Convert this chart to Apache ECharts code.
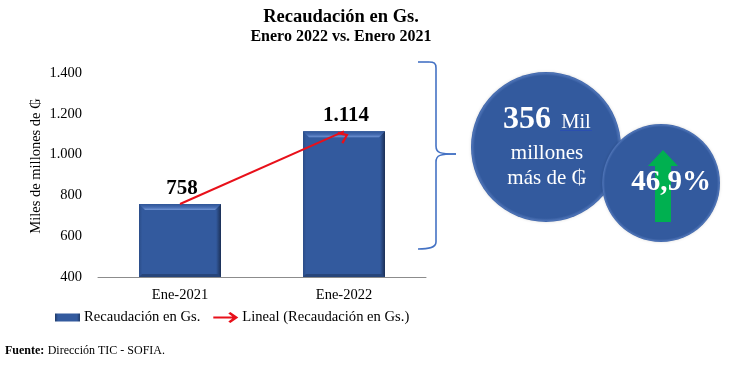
<!DOCTYPE html>
<html><head><meta charset="utf-8">
<style>html,body{margin:0;padding:0;background:#fff}#c{width:732px;height:365px}</style>
<script src="https://cdn.jsdelivr.net/npm/echarts@6/dist/echarts.min.js"></script>
</head><body><div id="c"></div>
<script>
const categories = ['Ene-2021', 'Ene-2022'];
const recaudacion = [758, 1114];
const yTicks = { min: 400, max: 1400, interval: 200 };
const serif = '"Liberation Serif","Times New Roman",serif';
const blue = '#335a9e';
const fmt = v => String(v).replace(/\B(?=(\d{3})+$)/g, '.');
const chart = echarts.init(document.getElementById('c'), null, { renderer: 'canvas' });
const angle = Math.atan2((recaudacion[1] - recaudacion[0]) * 0.204, 164) * 180 / Math.PI;
const chevron = 'path://M0 12 L10 0 L20 12 L17 14 L10 5 L3 14 Z';
const legendArrow = 'path://M0 4.4 L19 4.4 L15 1.4 L17 0 L25 5.5 L17 11 L15 9.6 L19 6.6 L0 6.6 Z';
const legendBar = 'path://M0 0 L0.01 0 L0 0.01 Z M25 11 L24.99 11 L25 10.99 Z M0 1.5 L25 1.5 L25 9.5 L0 9.5 Z';
const bubbleFill = { type: 'radial', x: .5, y: .5, r: .5, colorStops: [{ offset: 0, color: blue }, { offset: .95, color: blue }, { offset: .985, color: '#4d72b5' }, { offset: 1, color: '#3a62a8' }] };
const text = (x, y, t, size, extra) => ({ type: 'text', x, y, z: 20, style: Object.assign({ text: t, fill: '#fff', font: size + 'px ' + serif, textAlign: 'center', textVerticalAlign: 'middle' }, extra) });
const brStyle = { fill: 'none', stroke: '#4472c4', lineWidth: 1.6 };
const seg = (x1, y1, x2, y2) => ({ type: 'line', z: 10, shape: { x1, y1, x2, y2 }, style: brStyle });
const bez = (x1, y1, cpx1, cpy1, cpx2, cpy2, x2, y2) => ({ type: 'bezierCurve', z: 10, shape: { x1, y1, cpx1, cpy1, cpx2, cpy2, x2, y2 }, style: brStyle });
chart.setOption({
  animation: false,
  backgroundColor: '#fff',
  textStyle: { fontFamily: serif },
  title: {
    text: 'Recaudación en Gs.', subtext: 'Enero 2022 vs. Enero 2021', left: 336, textAlign: 'center', top: 3, itemGap: 2,
    textStyle: { fontFamily: serif, fontSize: 18.5, fontWeight: 'bold', color: '#000' },
    subtextStyle: { fontFamily: serif, fontSize: 16, fontWeight: 'bold', color: '#000' }
  },
  grid: { left: 98, right: 306, top: 73, bottom: 88 },
  legend: {
    left: 50, top: 305, itemGap: 13, itemWidth: 25, itemHeight: 11, symbolKeepAspect: false,
    data: [
      { name: 'Recaudación en Gs.', icon: legendBar, itemStyle: { color: { type: 'linear', x: 0, y: 0, x2: 1, y2: 0, colorStops: [{ offset: 0, color: '#1f3a68' }, { offset: .12, color: blue }, { offset: .88, color: blue }, { offset: 1, color: '#1f3a68' }] } } },
      { name: 'Lineal (Recaudación en Gs.)', icon: legendArrow, itemStyle: { color: '#e8101a', borderWidth: 0 } }
    ],
    textStyle: { fontFamily: serif, fontSize: 14.6, color: '#000', padding: [0, 0, 0, -1] }
  },
  xAxis: {
    type: 'category', data: categories,
    axisLine: { lineStyle: { color: '#8c8c8c', width: 1 } }, axisTick: { show: false },
    axisLabel: { fontFamily: serif, fontSize: 14.5, color: '#000', margin: 11 }
  },
  yAxis: {
    type: 'value', min: yTicks.min, max: yTicks.max, interval: yTicks.interval,
    name: 'Miles de millones de ₲', nameLocation: 'middle', nameGap: 54,
    nameTextStyle: { fontFamily: serif, fontSize: 14.5, color: '#000', padding: [0, 0, 0, 18] },
    axisLine: { show: false }, axisTick: { show: false }, splitLine: { show: false },
    axisLabel: { fontFamily: serif, fontSize: 14.5, color: '#000', margin: 16, padding: [4, 0, 0, 0], formatter: fmt }
  },
  series: [
    {
      name: 'Recaudación en Gs.', type: 'bar', data: recaudacion, barWidth: '50%', z: 2,
      itemStyle: { color: { type: 'linear', x: 0, y: 0, x2: 1, y2: 0, colorStops: [
        { offset: 0, color: '#2b4d88' }, { offset: .04, color: blue }, { offset: .94, color: blue }, { offset: 1, color: '#1b2f55' }] } },
      label: { show: true, position: 'top', distance: 5, offset: [2, 0], fontFamily: serif, fontSize: 21, fontWeight: 'bold', color: '#000', formatter: p => fmt(p.value) }
    },
    {
      name: 'bevel', type: 'custom', data: recaudacion, z: 3, silent: true,
      renderItem: (params, api) => {
        const top = api.coord([api.value(0), api.value(1)]);
        const base = api.coord([api.value(0), yTicks.min]);
        const w = api.size([1, 0])[0] * 0.5;
        const l = top[0] - w / 2, r = top[0] + w / 2, b = 6, s = 3;
        return { type: 'group', children: [
          { type: 'polygon', shape: { points: [[l, top[1]], [r, top[1]], [r - b, top[1] + b], [l + b, top[1] + b]] }, style: { fill: { type: 'linear', x: 0, y: 0, x2: 0, y2: 1, colorStops: [{ offset: 0, color: '#2f5597' }, { offset: .55, color: '#456bb0' }, { offset: 1, color: '#7094d4' }] } } },
          { type: 'polygon', shape: { points: [[l, base[1]], [r, base[1]], [r - s, base[1] - s], [l + s, base[1] - s]] }, style: { fill: '#27457a' } }
        ] };
      }
    },
    {
      name: 'Lineal (Recaudación en Gs.)', type: 'line', z: 5,
      data: [
        { value: recaudacion[0], symbol: 'none' },
        { value: recaudacion[1], symbol: chevron, symbolSize: [13, 10], symbolRotate: angle - 90, symbolOffset: [0, '50%'] }
      ],
      lineStyle: { color: '#e8101a', width: 2 }, itemStyle: { color: '#e8101a' }, showSymbol: true, showAllSymbol: true
    }
  ],
  graphic: [
    seg(418, 62, 429, 62), bez(429, 62, 434, 62, 436, 63, 436, 68), seg(436, 68, 436, 146),
    bez(436, 146, 436, 153, 440, 154, 456, 154), bez(456, 154, 440, 154, 436, 155, 436, 162),
    seg(436, 162, 436, 242), bez(436, 242, 436, 248, 428, 249, 418, 249),
    { type: 'circle', z: 11, shape: { cx: 546, cy: 147, r: 75 }, style: { fill: bubbleFill, shadowBlur: 3, shadowColor: 'rgba(0,0,0,.15)' } },
    { type: 'circle', z: 12, shape: { cx: 661, cy: 183, r: 59 }, style: { fill: bubbleFill, shadowBlur: 3, shadowColor: 'rgba(0,0,0,.15)' } },
    { type: 'polygon', z: 13, shape: { points: [[663, 150], [678, 166], [671, 166], [671, 222], [655, 222], [655, 166], [648, 166]] }, style: { fill: '#00b050' } },
    text(527, 120, '356', 32, { font: 'bold 32px ' + serif }),
    text(576, 123, 'Mil', 20.5),
    { type: 'line', z: 20, shape: { x1: 560, y1: 130.5, x2: 592, y2: 130.5 }, style: { stroke: '#2b4fb0', lineWidth: 1 } },
    text(547, 153, 'millones', 21),
    text(547, 178, 'más de ₲', 21),
    text(671, 183, '46,9%', 29, { font: 'bold 29px ' + serif }),
    { type: 'text', z: 20, x: 5, y: 350.5, style: { rich: { a: { font: 'bold 12px ' + serif, fill: '#000' }, b: { font: '12px ' + serif, fill: '#000' } }, text: '{a|Fuente:} {b|Dirección TIC - SOFIA.}', textVerticalAlign: 'middle' } }
  ]
});
</script></body></html>
